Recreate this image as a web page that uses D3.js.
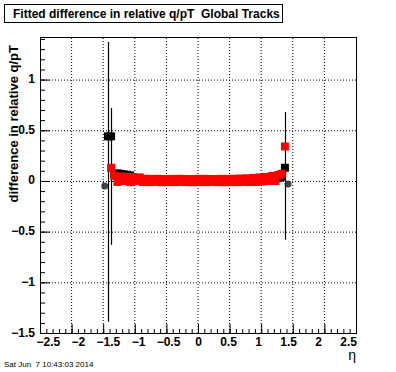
<!DOCTYPE html>
<html lang="en">
  <head>
    <meta charset="UTF-8" />
    <title>Fitted difference in relative q/pT</title>
    <script src="https://d3js.org/d3.v7.min.js"></script>
    <style>
      body { margin: 0; background: #fff; }
      text { font-family: "Liberation Sans", Arial, Helvetica, sans-serif; }
    </style>
  </head>
  <body>
    <script>
      const width = 396;
      const height = 372;

      // eta bin centres
      const etaBins = [
        -1.425, -1.375, -1.325, -1.275, -1.225, -1.175, -1.125, -1.075, -1.025,
        -0.975, -0.925, -0.875, -0.825, -0.775, -0.725, -0.675, -0.625, -0.575, -0.525,
        -0.475, -0.425, -0.375, -0.325, -0.275, -0.225, -0.175, -0.125, -0.075, -0.025,
        0.025, 0.075, 0.125, 0.175, 0.225, 0.275, 0.325, 0.375, 0.425, 0.475,
        0.525, 0.575, 0.625, 0.675, 0.725, 0.775, 0.825, 0.875, 0.925, 0.975,
        1.025, 1.075, 1.125, 1.175, 1.225, 1.275, 1.325, 1.375
      ];
      // black series (drawn underneath), one value per bin
      const blackValues = [
        0.44, 0.44, 0.07, 0.075, 0.07, 0.065, 0.06, 0.055, 0.03,
        0.02, 0.015, 0.01, 0.01, 0.0, 0.01, 0.0, 0.01, 0.0, 0.01,
        0.0, 0.01, 0.0, 0.01, 0.0, 0.01, 0.0, 0.01, 0.0, 0.01,
        0.0, 0.01, 0.0, 0.01, 0.0, 0.01, 0.0, 0.01, 0.0, 0.01,
        0.0, 0.01, 0.0, 0.01, 0.0, 0.01, 0.0, 0.01, 0.0, 0.01,
        0.0, 0.01, 0.02, 0.02, 0.03, 0.03, 0.04, 0.13
      ];
      // faint black points just outside the range
      const edgeEta = [-1.475, 1.425];
      const edgeValues = [-0.05, -0.03];
      // black error bars that stand out (eta, low, high)
      const errEta = [-1.425, -1.375, 1.375];
      const errLow = [-1.39, -0.63, -0.58];
      const errHigh = [1.37, 0.72, 0.68];
      // red series, bins -1.375 .. 1.375
      const redValues = [
        0.13, 0.05, -0.01, 0.045, 0.0, 0.04, -0.012, 0.038, 0.0, 0.035, -0.01,
        0.022, -0.012, 0.02, -0.01, 0.021, -0.013, 0.019, -0.011, 0.02, -0.012,
        0.021, -0.01, 0.02, -0.012, 0.019, -0.013, 0.02, -0.011, 0.021, -0.012,
        0.02, -0.01, 0.019, -0.012, 0.021, -0.013, 0.02, -0.011, 0.022, -0.012,
        0.024, -0.01, 0.026, -0.011,
        0.03, -0.01, 0.035, -0.005, 0.04, 0.0, 0.05, 0.0, 0.06, 0.07,
        0.34
      ];
      const xTicks = [-2.5, -2, -1.5, -1, -0.5, 0, 0.5, 1, 1.5, 2, 2.5];
      const yTicks = [-1.5, -1, -0.5, 0, 0.5, 1];

      const svg = d3.select("body").append("svg")
        .attr("width", width)
        .attr("height", height);

      const x = d3.scaleLinear().domain([-2.5, 2.5]).range([40, 356]);
      const y = d3.scaleLinear().domain([-1.5, 1.42]).range([333, 37]);

      // dotted grid
      const grid = svg.append("g").attr("stroke", "#000").attr("stroke-dasharray", "1,2");
      grid.selectAll(".gx").data(xTicks.slice(1, -1)).join("line")
        .attr("x1", d => x(d)).attr("x2", d => x(d))
        .attr("y1", y.range()[0]).attr("y2", y.range()[1]);
      grid.selectAll(".gy").data(yTicks.slice(1)).join("line")
        .attr("x1", x.range()[0]).attr("x2", x.range()[1])
        .attr("y1", d => y(d) + 0.5).attr("y2", d => y(d) + 0.5);

      // axes with ticks pointing inside
      const minorX = d3.range(-2.5, 2.5001, 0.1);
      const minorY = d3.range(-1.5, 1.4201, 0.1);
      svg.append("g").attr("transform", `translate(0,${y.range()[0]})`)
        .call(d3.axisBottom(x).tickValues(minorX).tickSize(-4).tickFormat(""));
      const xAxis = svg.append("g").attr("transform", `translate(0,${y.range()[0]})`)
        .call(d3.axisBottom(x).tickValues(xTicks).tickSize(-9).tickPadding(4).tickFormat(d3.format("")));
      svg.append("g").attr("transform", `translate(${x.range()[0]},0)`)
        .call(d3.axisLeft(y).tickValues(minorY).tickSize(-5).tickFormat(""));
      svg.append("g").attr("transform", `translate(${x.range()[0]},0)`)
        .call(d3.axisLeft(y).tickValues(yTicks).tickSize(-10).tickPadding(5).tickFormat(d3.format("")));
      svg.selectAll(".domain").remove();
      svg.selectAll(".tick line").attr("stroke", "#000");
      svg.selectAll(".tick text")
        .attr("font-family", null)
        .attr("font-size", 12)
        .attr("font-weight", "bold")
        .attr("fill", "#000");
      // labels sit slightly pulled in toward the centre, as in the original plot
      xAxis.selectAll(".tick text")
        .attr("x", d => -0.05 * (x(d) - x(0)));
      svg.selectAll(".tick text").filter(function () {
        return this.parentNode.parentNode !== xAxis.node();
      }).attr("dy", "0.25em");

      // frame
      svg.append("rect")
        .attr("x", x.range()[0] + 0.5).attr("y", y.range()[1] + 0.5)
        .attr("width", x.range()[1] - x.range()[0])
        .attr("height", y.range()[0] - y.range()[1])
        .attr("fill", "none").attr("stroke", "#000");

      const ms = 8;
      const blackPts = etaBins.map((e, i) => ({ eta: e, v: blackValues[i] }));
      const redPts = redValues.map((v, i) => ({ eta: etaBins[i + 1], v: v }));

      // black error bars
      svg.append("g").selectAll("line").data(errEta).join("line")
        .attr("x1", d => Math.round(x(d)) + 0.5).attr("x2", d => Math.round(x(d)) + 0.5)
        .attr("y1", (d, i) => y(errHigh[i])).attr("y2", (d, i) => y(errLow[i]))
        .attr("stroke", "#000").attr("stroke-width", 1.2);

      // edge points
      svg.append("g").selectAll("circle").data(edgeEta).join("circle")
        .attr("cx", d => x(d)).attr("cy", (d, i) => y(edgeValues[i]))
        .attr("r", 3.5)
        .attr("fill", "#222").attr("opacity", 0.85);

      // black markers
      svg.append("g").selectAll("rect").data(blackPts).join("rect")
        .attr("x", d => x(d.eta) - ms / 2).attr("y", d => y(d.v) - ms / 2)
        .attr("width", ms).attr("height", ms)
        .attr("fill", "#000");

      // red markers
      svg.append("g").selectAll("rect").data(redPts).join("rect")
        .attr("x", d => x(d.eta) - ms / 2).attr("y", d => y(d.v) - ms / 2)
        .attr("width", ms).attr("height", ms)
        .attr("fill", "#ff0000");

      // title box
      svg.append("rect")
        .attr("x", 4.5).attr("y", 4.5).attr("width", 278).attr("height", 18)
        .attr("fill", "#fff").attr("stroke", "#000");
      svg.append("text")
        .attr("x", 13).attr("y", 17.5)
        .attr("font-size", 12).attr("font-weight", "bold")
        .style("white-space", "pre")
        .text("Fitted difference in relative q/pT  Global Tracks");

      // axis titles
      svg.append("text")
        .attr("transform", "translate(18,45) rotate(-90)")
        .attr("text-anchor", "end")
        .attr("font-size", 13).attr("font-weight", "bold")
        .text("difference in relative q/pT");
      svg.append("text")
        .attr("x", 356).attr("y", 360)
        .attr("text-anchor", "end")
        .attr("font-size", 14)
        .text("η");

      // date stamp
      svg.append("text")
        .attr("x", 4).attr("y", 367)
        .attr("font-size", 8)
        .style("white-space", "pre")
        .text("Sat Jun  7 10:43:03 2014");
    </script>
  </body>
</html>
